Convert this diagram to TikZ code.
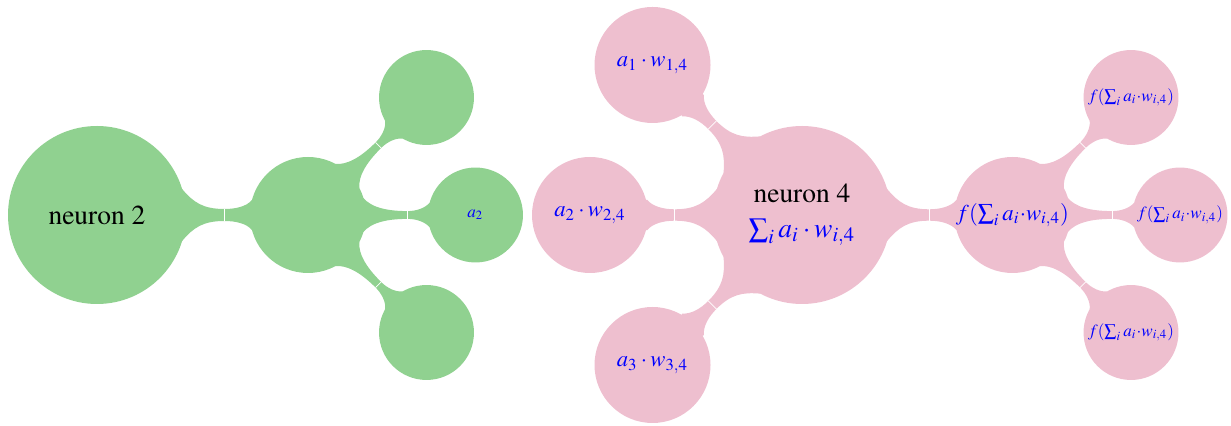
\documentclass[tikz,border=0pt]{standalone}
\usepackage[T1]{fontenc}
\usepackage{mathptmx}
\usetikzlibrary{backgrounds}
\definecolor{leafgreen}{RGB}{144,209,144}
\definecolor{blushpink}{RGB}{238,191,207}
\tikzset{
  bubble/.style={circle, inner sep=0pt, outer sep=0pt, align=center},
  hub/.style={bubble, minimum size=66.75pt, font=\fontsize{10.3}{13}\selectfont},
  spoke/.style={bubble, minimum size=43.5pt, font=\fontsize{8.5}{10}\selectfont},
  leaf/.style={bubble, minimum size=35.6pt, font=\fontsize{6.4}{8}\selectfont},
  greenfill/.style={fill=leafgreen},
  pinkfill/.style={fill=blushpink},
  var/.style={text=blue},
  seam/.style={draw=white, line width=0.3pt}
}
% Tapered bar joining two filled circles, narrowest at a thin seam.
% #1,#2: node names; #3,#4: their radii; #5: half width at the seam;
% #6: fill colour; #7: where the seam sits across the gap (0..1).
\makeatletter
\newcommand{\neckbar}[7]{%
  \pgfmathanglebetweenpoints{\pgfpointanchor{#1}{center}}{\pgfpointanchor{#2}{center}}%
  \let\nbAngle\pgfmathresult
  \pgfpointdiff{\pgfpointanchor{#1}{center}}{\pgfpointanchor{#2}{center}}%
  \pgfmathsetmacro\nbD{veclen(\pgf@x,\pgf@y)/0.375}%
  \pgfmathsetmacro\nbAx{#3*cos(17)}%
  \pgfmathsetmacro\nbAy{#3*sin(17)}%
  \pgfmathsetmacro\nbBx{\nbD-#4*cos(15)}%
  \pgfmathsetmacro\nbBy{#4*sin(15)}%
  \pgfmathsetmacro\nbS{#3+#7*(\nbD-#3-#4)}%
  \pgfmathsetmacro\nbka{0.2*#3}%
  \pgfmathsetmacro\nbca{0.5*(\nbS-\nbAx)}%
  \pgfmathsetmacro\nbkb{0.15*#4}%
  \pgfmathsetmacro\nbcb{0.4*(\nbBx-\nbS)}%
  \begin{scope}[shift={(#1.center)}, rotate=\nbAngle]
    \fill[#6] (0,0) -- (\nbAx,\nbAy)
      .. controls +({0.643*\nbka},{-0.766*\nbka}) and +(-\nbca,0) .. (\nbS,#5)
      .. controls +(\nbcb,0) and +({-0.643*\nbkb},{-0.766*\nbkb}) .. (\nbBx,\nbBy)
      -- (\nbD,0) -- (\nbBx,-\nbBy)
      .. controls +({-0.643*\nbkb},{0.766*\nbkb}) and +(\nbcb,0) .. (\nbS,-#5)
      .. controls +(-\nbca,0) and +({0.643*\nbka},{0.766*\nbka}) .. (\nbAx,-\nbAy)
      -- cycle;
    \draw[seam] (\nbS,-#5) -- (\nbS,#5);
  \end{scope}%
}
\makeatother
\begin{document}
\begin{tikzpicture}[x=0.375pt, y=-0.375pt]
  \useasboundingbox (0,0) rectangle (1231,426);

  % first neuron and its outputs
  \node[hub, greenfill]   (n2)   at (97,215)      {neuron 2};
  \node[spoke, greenfill] (n2o)  at (308,215)     {};
  \node[leaf, greenfill]  (n2a)  at (426.5,97.5)  {};
  \node[leaf, greenfill]  (n2b)  at (475.5,215)   {\color{blue}$a_2$};
  \node[leaf, greenfill]  (n2c)  at (426.5,332.5) {};

  % second neuron, its weighted inputs and its outputs
  \node[hub, pinkfill]    (n4)   at (802,215)
    {neuron 4\\ \color{blue}$\sum_i a_i\cdot w_{i,4}$};
  \node[spoke, pinkfill, var] (w1) at (652.5,65)  {$a_1\cdot w_{1,4}$};
  \node[spoke, pinkfill, var] (w2) at (590,215)   {$a_2\cdot w_{2,4}$};
  \node[spoke, pinkfill, var] (w3) at (652.5,365) {$a_3\cdot w_{3,4}$};
  \node[spoke, pinkfill, var] (f4) at (1012.5,215)
    {$f(\sum_i a_i{\cdot}w_{i,4})$};
  \node[leaf, pinkfill, var] (f4a) at (1131,97.5)  {$f(\sum_i a_i{\cdot}w_{i,4})$};
  \node[leaf, pinkfill, var] (f4b) at (1180,215)   {$f(\sum_i a_i{\cdot}w_{i,4})$};
  \node[leaf, pinkfill, var] (f4c) at (1131,332.5) {$f(\sum_i a_i{\cdot}w_{i,4})$};

  \begin{scope}[on background layer]
    \neckbar{n2}{n2o}{89}{58}{6}{leafgreen}{0.6}
    \neckbar{n2o}{n2a}{58}{47.5}{3.9}{leafgreen}{0.67}
    \neckbar{n2o}{n2b}{58}{47.5}{3.9}{leafgreen}{0.67}
    \neckbar{n2o}{n2c}{58}{47.5}{3.9}{leafgreen}{0.67}

    \neckbar{n4}{w1}{89}{59}{5.7}{blushpink}{0.6}
    \neckbar{n4}{w2}{89}{59}{5.7}{blushpink}{0.6}
    \neckbar{n4}{w3}{89}{59}{5.7}{blushpink}{0.6}
    \neckbar{n4}{f4}{89}{58}{5.7}{blushpink}{0.6}
    \neckbar{f4}{f4a}{58}{47.5}{3.9}{blushpink}{0.67}
    \neckbar{f4}{f4b}{58}{47.5}{3.9}{blushpink}{0.67}
    \neckbar{f4}{f4c}{58}{47.5}{3.9}{blushpink}{0.67}
  \end{scope}
\end{tikzpicture}
\end{document}
